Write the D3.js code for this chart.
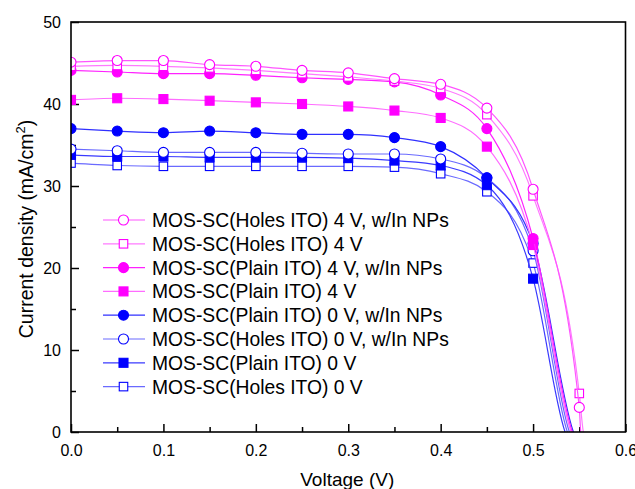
<!DOCTYPE html>
<html>
<head>
<meta charset="utf-8">
<script src="https://cdn.jsdelivr.net/npm/d3@7"></script>
<style>
  html, body { margin: 0; padding: 0; background: #ffffff; }
  svg { display: block; font-family: "Liberation Sans", Arial, sans-serif; }
</style>
</head>
<body>
<svg id="chart" width="635" height="489"></svg>
<script>
// Bias voltage where each J–V curve is sampled (V)
const voltage = [0, 0.05, 0.1, 0.15, 0.2, 0.25, 0.3, 0.35, 0.4, 0.45, 0.5, 0.55];

// Current density (mA/cm²) per device
const holes4vNPs = [45.1, 45.3, 45.3, 44.8, 44.6, 44.1, 43.8, 43.1, 42.4, 39.5, 29.6, 3.0];
const holes4v    = [44.6, 44.7, 44.6, 44.4, 44.1, 43.7, 43.3, 42.8, 41.9, 38.7, 28.8, 4.7];
const plain4vNPs = [44.1, 43.9, 43.7, 43.7, 43.5, 43.2, 43.0, 42.7, 41.1, 37.0, 23.6];
const plain4v    = [40.5, 40.7, 40.6, 40.4, 40.2, 40.0, 39.7, 39.2, 38.3, 34.8, 22.8];
const plain0vNPs = [37.0, 36.7, 36.5, 36.7, 36.5, 36.3, 36.3, 35.9, 34.8, 31.0, 23.0];
const holes0vNPs = [34.5, 34.3, 34.1, 34.1, 34.1, 34.0, 33.9, 33.9, 33.3, 31.0, 22.1];
const plain0v    = [33.8, 33.6, 33.6, 33.5, 33.5, 33.5, 33.4, 33.1, 32.5, 30.1, 18.7];
const holes0v    = [32.8, 32.5, 32.4, 32.4, 32.4, 32.4, 32.4, 32.3, 31.5, 29.3, 20.6];

// Open-circuit voltage (V) where each curve meets J = 0
const openCircuit = [0.5516, 0.5544, 0.5425, 0.5411, 0.5436, 0.5393, 0.5346, 0.5371];

const seriesNames = [
  "MOS-SC(Holes ITO) 4 V, w/In NPs",
  "MOS-SC(Holes ITO) 4 V",
  "MOS-SC(Plain ITO) 4 V, w/In NPs",
  "MOS-SC(Plain ITO) 4 V",
  "MOS-SC(Plain ITO) 0 V, w/In NPs",
  "MOS-SC(Holes ITO) 0 V, w/In NPs",
  "MOS-SC(Plain ITO) 0 V",
  "MOS-SC(Holes ITO) 0 V"
];
const seriesValues = [holes4vNPs, holes4v, plain4vNPs, plain4v, plain0vNPs, holes0vNPs, plain0v, holes0v];

// Axis ticks
const xTicks = [0, 0.1, 0.2, 0.3, 0.4, 0.5, 0.6];
const xMinorTicks = [0.05, 0.15, 0.25, 0.35, 0.45, 0.55];
const yTicks = [0, 10, 20, 30, 40, 50];
const yMinorTicks = [5, 15, 25, 35, 45];

// Styling per series
const markerColor = ["#ff00ff", "#ff00ff", "#ff00ff", "#ff00ff", "#0000ff", "#0000ff", "#0000ff", "#0000ff"];
const lineColor   = ["#ff55ff", "#ff7aff", "#ff22ff", "#ff6cff", "#3030ff", "#6a6aff", "#3a3aff", "#6a6aff"];
const markerShape = ["circle", "square", "circle", "square", "circle", "circle", "square", "square"];
const markerFilled = [false, false, true, true, true, false, true, false];

const series = seriesNames.map((name, i) => ({
  name,
  points: seriesValues[i].map((v, k) => ({ x: voltage[k], y: v })),
  voc: openCircuit[i],
  marker: markerColor[i],
  line: lineColor[i],
  shape: markerShape[i],
  filled: markerFilled[i]
}));

const svg = d3.select("#chart");
const W = 635, H = 489;
const plot = { left: 71, right: 625.5, top: 22, bottom: 432 };

const x = d3.scaleLinear().domain([0, 0.6]).range([plot.left, plot.right]);
const y = d3.scaleLinear().domain([0, 50]).range([plot.bottom, plot.top]);

svg.append("rect").attr("width", W).attr("height", H).attr("fill", "#ffffff");

svg.append("defs").append("clipPath").attr("id", "plotClip")
  .append("rect")
  .attr("x", plot.left).attr("y", plot.top)
  .attr("width", plot.right - plot.left).attr("height", plot.bottom - plot.top);

// Axes: ticks pointing into the plot
const xAxis = d3.axisBottom(x).tickValues(xTicks).tickSize(-8).tickPadding(13)
  .tickFormat(d3.format(".1f"));
const xMinor = d3.axisBottom(x).tickValues(xMinorTicks).tickSize(-5).tickFormat("");
const yAxis = d3.axisLeft(y).tickValues(yTicks).tickSize(-8).tickPadding(10)
  .tickFormat(d3.format("d"));
const yMinor = d3.axisLeft(y).tickValues(yMinorTicks).tickSize(-5).tickFormat("");

function styleAxis(g) {
  g.select(".domain").remove();
  g.selectAll(".tick line").attr("stroke", "#000").attr("stroke-width", 1.5);
  g.selectAll(".tick text").attr("fill", "#000").style("font-size", "16px")
    .style("font-family", "'Liberation Sans', Arial, sans-serif");
}

svg.append("g").attr("transform", `translate(0,${plot.bottom})`).call(xAxis).call(styleAxis);
svg.append("g").attr("transform", `translate(0,${plot.bottom})`).call(xMinor).call(styleAxis);
svg.append("g").attr("transform", `translate(${plot.left},0)`).call(yAxis).call(styleAxis);
svg.append("g").attr("transform", `translate(${plot.left},0)`).call(yMinor).call(styleAxis);

// Curves, drawn bottom legend entry first so upper entries sit on top
const lineGen = d3.line().x(d => x(d.x)).y(d => y(d.y)).curve(d3.curveMonotoneX);
const curves = svg.append("g").attr("clip-path", "url(#plotClip)");

function drawMarker(g, shape, cx, cy, color, filled) {
  if (shape === "circle") {
    g.append("circle").attr("cx", cx).attr("cy", cy).attr("r", 5)
      .attr("fill", filled ? color : "#ffffff")
      .attr("stroke", color).attr("stroke-width", 1.1);
  } else {
    const s = filled ? 9 : 8.5;
    g.append("rect").attr("x", cx - s / 2).attr("y", cy - s / 2)
      .attr("width", s).attr("height", s)
      .attr("fill", filled ? color : "#ffffff")
      .attr("stroke", color).attr("stroke-width", 1.1);
  }
}

series.slice().reverse().forEach(s => {
  const g = curves.append("g");
  const pts = s.points.concat([{ x: s.voc, y: 0 }, { x: s.voc + 0.004, y: -1.2 }]);
  g.append("path").datum(pts)
    .attr("d", lineGen)
    .attr("fill", "none")
    .attr("stroke", s.line)
    .attr("stroke-width", 1.2);
  s.points.forEach(p => drawMarker(g, s.shape, x(p.x), y(p.y), s.marker, s.filled));
});

// Plot frame
svg.append("rect")
  .attr("x", plot.left).attr("y", plot.top)
  .attr("width", plot.right - plot.left).attr("height", plot.bottom - plot.top)
  .attr("fill", "none").attr("stroke", "#000").attr("stroke-width", 1.6);

// Legend
const legend = svg.append("g");
series.forEach((s, i) => {
  const ly = 220 + i * 23.8;
  const g = legend.append("g");
  g.append("line").attr("x1", 103).attr("x2", 145).attr("y1", ly).attr("y2", ly)
    .attr("stroke", s.line).attr("stroke-width", 1.2);
  drawMarker(g, s.shape, 123.5, ly, s.marker, s.filled);
  g.append("text").attr("x", 152).attr("y", ly + 7)
    .attr("fill", "#000").style("font-size", "19.3px")
    .text(s.name);
});

// Axis titles
svg.append("text")
  .attr("x", (plot.left + plot.right) / 2 - 1).attr("y", 486)
  .attr("text-anchor", "middle").attr("fill", "#000")
  .style("font-size", "19px")
  .text("Voltage (V)");

const yTitle = svg.append("text")
  .attr("transform", `translate(33,${229}) rotate(-90)`)
  .attr("text-anchor", "middle").attr("fill", "#000")
  .style("font-size", "19.5px");
yTitle.append("tspan").text("Current density (mA/cm");
yTitle.append("tspan").attr("dy", -8).style("font-size", "13px").text("2");
yTitle.append("tspan").attr("dy", 8).text(")");
</script>
</body>
</html>
